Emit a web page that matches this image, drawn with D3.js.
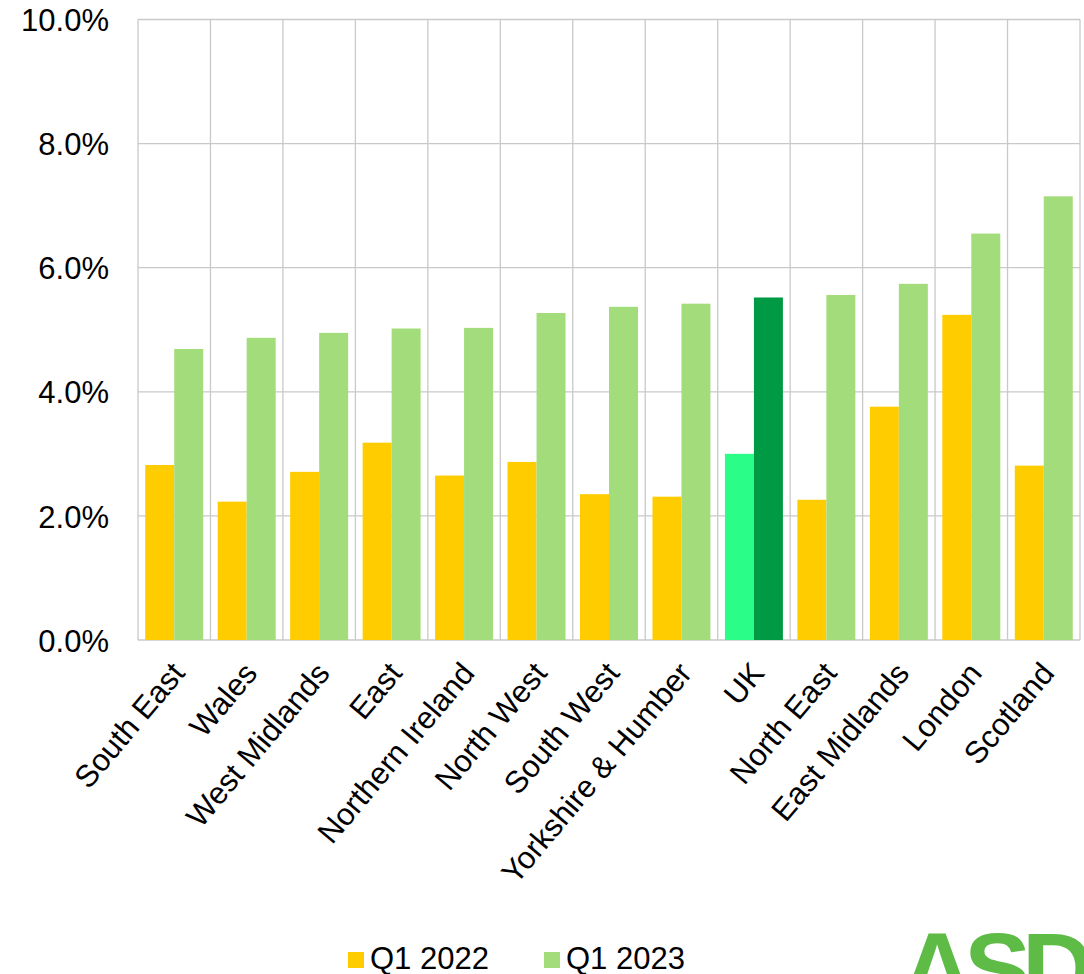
<!DOCTYPE html>
<html>
<head>
<meta charset="utf-8">
<script src="https://cdn.jsdelivr.net/npm/d3@7"></script>
<style>
  body { margin: 0; background: #fff; }
  svg { display: block; font-family: "Liberation Sans", Arial, sans-serif; }
</style>
</head>
<body>
<div id="chart"></div>
<script>
// data (percent)
var regions = ["South East", "Wales", "West Midlands", "East", "Northern Ireland", "North West",
  "South West", "Yorkshire & Humber", "UK", "North East", "East Midlands", "London", "Scotland"];
var q1_2022 = [2.82, 2.23, 2.71, 3.18, 2.65, 2.87, 2.35, 2.31, 3.00, 2.26, 3.76, 5.24, 2.81];
var q1_2023 = [4.69, 4.87, 4.95, 5.02, 5.03, 5.27, 5.37, 5.42, 5.52, 5.56, 5.74, 6.55, 7.15];
var seriesNames = ["Q1 2022", "Q1 2023"];
var yTicks = [0, 2, 4, 6, 8, 10];

var colors = {"Q1 2022": "#FFCC00", "Q1 2023": "#A3DC7A"};
var ukColors = {"Q1 2022": "#2AFE89", "Q1 2023": "#009A44"};

var width = 1084, height = 974;
var plotLeft = 138, plotRight = 1080, plotTop = 19.5, plotBottom = 640;

var svg = d3.select("#chart")
  .append("svg")
    .attr("width", width)
    .attr("height", height);

// scales
var x = d3.scaleBand()
  .domain(regions)
  .range([plotLeft, plotRight])
  .padding(0);

var x1 = d3.scaleBand()
  .domain(seriesNames)
  .range([0, x.bandwidth()])
  .paddingInner(0)
  .paddingOuter(0.25);

var y = d3.scaleLinear()
  .domain([0, 10])
  .range([plotBottom, plotTop]);

// grid
var grid = svg.append("g").attr("stroke", "#C9C9C9").attr("stroke-width", 1.3);
grid.selectAll("line.h")
  .data(yTicks)
  .enter().append("line")
    .attr("x1", plotLeft).attr("x2", plotRight)
    .attr("y1", function(d) { return y(d); })
    .attr("y2", function(d) { return y(d); });
grid.selectAll("line.v")
  .data(regions.concat(["__end"]))
  .enter().append("line")
    .attr("x1", function(d) { return d === "__end" ? plotRight : x(d); })
    .attr("x2", function(d) { return d === "__end" ? plotRight : x(d); })
    .attr("y1", plotTop).attr("y2", plotBottom);

// bars
var rows = regions.map(function(r, i) {
  return {region: r, values: [
    {key: "Q1 2022", value: q1_2022[i]},
    {key: "Q1 2023", value: q1_2023[i]}
  ]};
});

var groups = svg.selectAll("g.region")
  .data(rows)
  .enter().append("g")
    .attr("transform", function(d) { return "translate(" + x(d.region) + ",0)"; });

groups.selectAll("rect")
  .data(function(d) { return d.values.map(function(v) { return {region: d.region, key: v.key, value: v.value}; }); })
  .enter().append("rect")
    .attr("x", function(d) { return x1(d.key); })
    .attr("width", x1.bandwidth())
    .attr("y", function(d) { return y(d.value); })
    .attr("height", function(d) { return y(0) - y(d.value); })
    .attr("fill", function(d) { return d.region === "UK" ? ukColors[d.key] : colors[d.key]; });

// y axis labels
var yAxis = svg.append("g")
  .attr("transform", "translate(" + plotLeft + ",0)")
  .call(d3.axisLeft(y).tickValues(yTicks).tickSize(0).tickPadding(29)
    .tickFormat(function(d) { return d.toFixed(1) + "%"; }));
yAxis.select(".domain").remove();
yAxis.selectAll("text")
  .attr("font-size", 31)
  .attr("font-family", "Liberation Sans, Arial, sans-serif")
  .attr("fill", "#000")
  .attr("dy", "0.36em");

// x axis labels
var xAxis = svg.append("g")
  .attr("transform", "translate(0," + plotBottom + ")")
  .call(d3.axisBottom(x).tickSize(0).tickPadding(0));
xAxis.select(".domain").remove();
xAxis.selectAll("text")
  .attr("font-size", 31)
  .attr("font-family", "Liberation Sans, Arial, sans-serif")
  .attr("fill", "#000")
  .attr("y", 0).attr("dy", 0)
  .attr("transform", "translate(12,34) rotate(-50)")
  .style("text-anchor", "end");

// legend
var legend = svg.append("g");
var legendX = [348, 544];
seriesNames.forEach(function(s, i) {
  legend.append("rect")
    .attr("x", legendX[i]).attr("y", 952)
    .attr("width", 16).attr("height", 16)
    .attr("fill", colors[s]);
  legend.append("text")
    .attr("x", legendX[i] + 22).attr("y", 969)
    .attr("font-size", 31)
    .attr("fill", "#000")
    .text(s);
});

// logo, cut off at bottom edge
svg.append("text")
  .attr("x", 901).attr("y", 1003)
  .attr("font-size", 100)
  .attr("font-weight", "bold")
  .attr("letter-spacing", -9)
  .attr("fill", "#5DBB46")
  .text("ASDA");
</script>
</body>
</html>
